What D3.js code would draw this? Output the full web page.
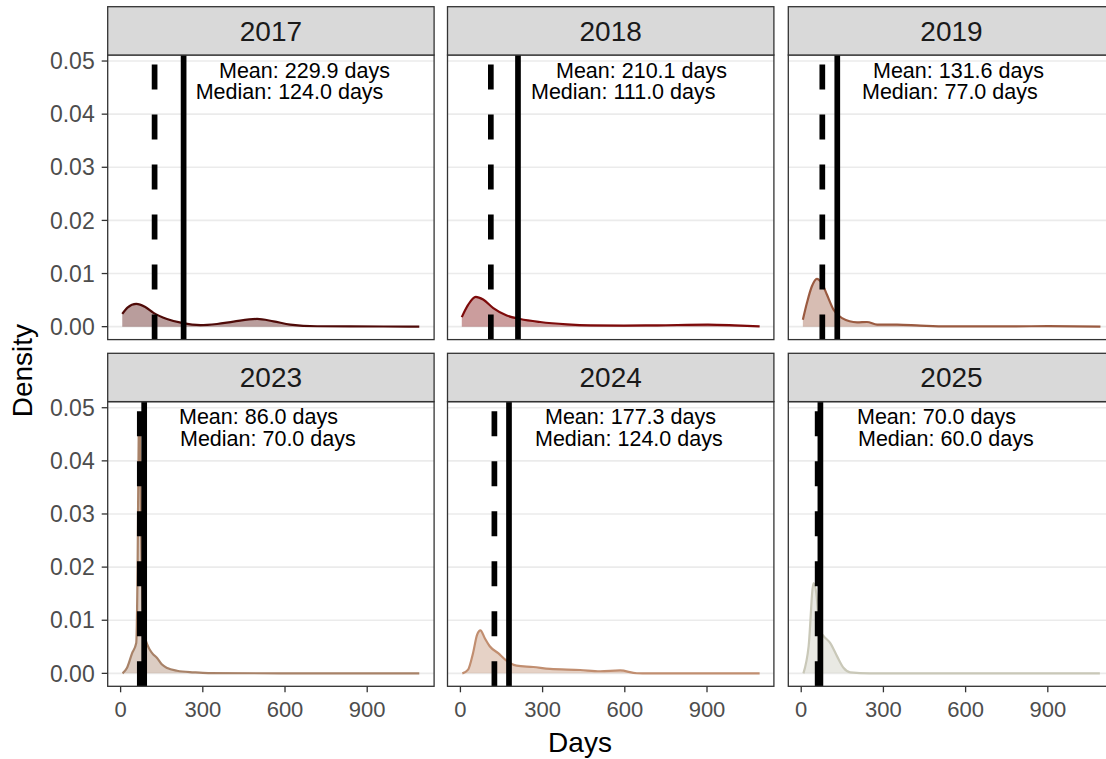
<!DOCTYPE html>
<html>
<head>
<meta charset="utf-8">
<script src="https://cdn.jsdelivr.net/npm/d3@7"></script>
<style>
  html, body { margin: 0; padding: 0; background: #ffffff; }
  svg { display: block; font-family: "Liberation Sans", Arial, Helvetica, sans-serif; }
</style>
</head>
<body>
<svg id="chart" width="1106" height="759"></svg>
<script>
// ---- data -------------------------------------------------------------
const years = ["2017", "2018", "2019", "2023", "2024", "2025"];
const meanDays = [229.9, 210.1, 131.6, 86.0, 177.3, 70.0];
const medianDays = [124.0, 111.0, 77.0, 70.0, 124.0, 60.0];
const lineColors = ["#4f0a08", "#7d0a0a", "#9a5a40", "#a88268", "#c18e70", "#c9c8b8"];

// kernel density estimates per year: [days, density]
const density2017 = [[6,0.0024],[25,0.0036],[57,0.0043],[90,0.0037],[120,0.0026],[169,0.00145],[224,0.0007],[291,0.00028],[352,0.0005],[412,0.00094],[498,0.00145],[558,0.001],[619,0.0004],[717,0.00008],[838,0.00005],[960,0.00003],[1090,0.00002]];
const density2018 = [[5,0.0018],[28,0.0041],[56,0.0056],[83,0.0051],[120,0.0035],[169,0.0021],[218,0.00145],[291,0.00088],[389,0.00044],[475,0.00025],[597,0.0002],[719,0.00025],[903,0.00038],[1001,0.00025],[1092,0.00006]];
const density2019 = [[6,0.0013],[21,0.0045],[39,0.0076],[57,0.009],[75,0.0082],[94,0.006],[118,0.0032],[149,0.0016],[204,0.0008],[240,0.00088],[277,0.0004],[350,0.00038],[435,0.0002],[533,0.00006],[655,0.00006],[777,0.00006],[900,0.0001],[1092,0.00002]];
const density2023 = [[7,0.0],[23,0.001],[42,0.0038],[57,0.0057],[62,0.02],[66,0.045],[68,0.0487],[71,0.045],[75,0.026],[81,0.012],[88,0.0072],[99,0.0052],[115,0.0038],[133,0.0029],[150,0.0017],[170,0.001],[206,0.0005],[267,0.0002],[320,0.00005],[600,0.0],[1090,0.0]];
const density2024 = [[7,0.0],[28,0.0007],[46,0.0038],[61,0.0073],[73,0.0081],[89,0.0066],[107,0.0051],[138,0.0038],[168,0.0024],[205,0.00145],[266,0.0012],[327,0.00083],[437,0.00063],[510,0.0004],[583,0.00056],[644,0.00002],[779,0.0],[1092,0.0]];
const density2025 = [[8,0.0],[27,0.0051],[45,0.017],[55,0.0151],[62,0.011],[70,0.0078],[82,0.007],[106,0.0057],[131,0.0032],[155,0.001],[179,0.0002],[250,0.0],[1090,0.0]];
const densities = [density2017, density2018, density2019, density2023, density2024, density2025];

const xTicks = [0, 300, 600, 900];
const yTicks = [0, 0.01, 0.02, 0.03, 0.04, 0.05];
const yTickLabels = ["0.00", "0.01", "0.02", "0.03", "0.04", "0.05"];

// ---- layout -----------------------------------------------------------
const panelLefts = [107.7, 447.5, 788.3];
const panelWidth = 326.4;
const stripTops = [6.7, 353.3];
const stripHeight = 48.3;
const panelTops = [55, 401.7];
const panelHeight = 284.6;
// text start offsets from panel left: [mean line, median line]
const labelOffsets = [[111.3, 88], [108.5, 83.5], [84.7, 73.7], [71.3, 72.3], [97.5, 87.5], [68.7, 69.7]];
const xTitleCenter = 580;

const svg = d3.select("#chart");

// shared (fixed) scales with 5% expansion on both axes
const xData = [7, 1090];
const xPad = (xData[1] - xData[0]) * 0.05;
const yMax = d3.max(densities.flat(), d => d[1]);
const yPad = yMax * 0.05;

const defs = svg.append("defs");

years.forEach((yr, i) => {
  const col = i % 3, row = Math.floor(i / 3);
  const left = panelLefts[col], top = panelTops[row];
  const bottom = top + panelHeight;

  const x = d3.scaleLinear().domain([xData[0] - xPad, xData[1] + xPad]).range([left, left + panelWidth]);
  const y = d3.scaleLinear().domain([-yPad, yMax + yPad]).range([bottom, top]);

  const g = svg.append("g");

  // panel background
  g.append("rect").attr("x", left).attr("y", top).attr("width", panelWidth).attr("height", panelHeight)
    .attr("fill", "#ffffff");

  // horizontal grid
  g.selectAll(".grid").data(yTicks).join("line")
    .attr("x1", left).attr("x2", left + panelWidth)
    .attr("y1", d => y(d)).attr("y2", d => y(d))
    .attr("stroke", "#ebebeb").attr("stroke-width", 1.6);

  // clip to panel
  const clipId = "clip" + i;
  defs.append("clipPath").attr("id", clipId).append("rect")
    .attr("x", left).attr("y", top).attr("width", panelWidth).attr("height", panelHeight);
  const inner = g.append("g").attr("clip-path", `url(#${clipId})`);

  const area = d3.area().x(d => x(d[0])).y0(y(0)).y1(d => y(d[1])).curve(d3.curveMonotoneX);
  const line = d3.line().x(d => x(d[0])).y(d => y(d[1])).curve(d3.curveMonotoneX);

  inner.append("path").attr("d", area(densities[i]))
    .attr("fill", lineColors[i]).attr("fill-opacity", 0.4);
  inner.append("path").attr("d", line(densities[i]))
    .attr("fill", "none").attr("stroke", lineColors[i]).attr("stroke-width", 2.2);

  // median (dashed) and mean (solid), drawn bottom to top
  inner.append("line")
    .attr("x1", x(medianDays[i])).attr("x2", x(medianDays[i]))
    .attr("y1", bottom).attr("y2", top)
    .attr("stroke", "#000").attr("stroke-width", 5.7).attr("stroke-dasharray", "25 25");
  inner.append("line")
    .attr("x1", x(meanDays[i])).attr("x2", x(meanDays[i]))
    .attr("y1", bottom).attr("y2", top)
    .attr("stroke", "#000").attr("stroke-width", 5.7);

  // summary text
  inner.append("text").attr("x", left + labelOffsets[i][0]).attr("y", top + 22.5)
    .attr("font-size", 21.5).attr("fill", "#000")
    .text(`Mean: ${meanDays[i].toFixed(1)} days`);
  inner.append("text").attr("x", left + labelOffsets[i][1]).attr("y", top + 44.2)
    .attr("font-size", 21.5).attr("fill", "#000")
    .text(`Median: ${medianDays[i].toFixed(1)} days`);

  // panel border
  g.append("rect").attr("x", left).attr("y", top).attr("width", panelWidth).attr("height", panelHeight)
    .attr("fill", "none").attr("stroke", "#333333").attr("stroke-width", 1.3);

  // strip
  const sTop = stripTops[row];
  g.append("rect").attr("x", left).attr("y", sTop).attr("width", panelWidth).attr("height", stripHeight)
    .attr("fill", "#d9d9d9").attr("stroke", "#333333").attr("stroke-width", 1.3);
  g.append("text").attr("x", left + panelWidth / 2).attr("y", sTop + stripHeight / 2 + 10)
    .attr("text-anchor", "middle").attr("font-size", 28).attr("fill", "#1a1a1a").text(yr);

  // y axis on first column
  if (col === 0) {
    const ax = g.append("g");
    yTicks.forEach((t, k) => {
      ax.append("line").attr("x1", left - 6).attr("x2", left).attr("y1", y(t)).attr("y2", y(t))
        .attr("stroke", "#333333").attr("stroke-width", 1.3);
      ax.append("text").attr("x", left - 13).attr("y", y(t) + 8.2)
        .attr("text-anchor", "end").attr("font-size", 23).attr("fill", "#4d4d4d").text(yTickLabels[k]);
    });
  }
  // x axis on bottom row
  if (row === 1) {
    const ax = g.append("g");
    xTicks.forEach(t => {
      ax.append("line").attr("x1", x(t)).attr("x2", x(t)).attr("y1", bottom).attr("y2", bottom + 6)
        .attr("stroke", "#333333").attr("stroke-width", 1.3);
      ax.append("text").attr("x", x(t)).attr("y", bottom + 30.6)
        .attr("text-anchor", "middle").attr("font-size", 22).attr("fill", "#4d4d4d").text(t);
    });
  }
});

// axis titles
svg.append("text").attr("x", xTitleCenter).attr("y", 752)
  .attr("text-anchor", "middle").attr("font-size", 28).attr("fill", "#000").text("Days");
svg.append("text")
  .attr("transform", `translate(32,${(panelTops[0] + panelTops[1] + panelHeight) / 2}) rotate(-90)`)
  .attr("text-anchor", "middle").attr("font-size", 28).attr("fill", "#000").text("Density");
</script>
</body>
</html>
